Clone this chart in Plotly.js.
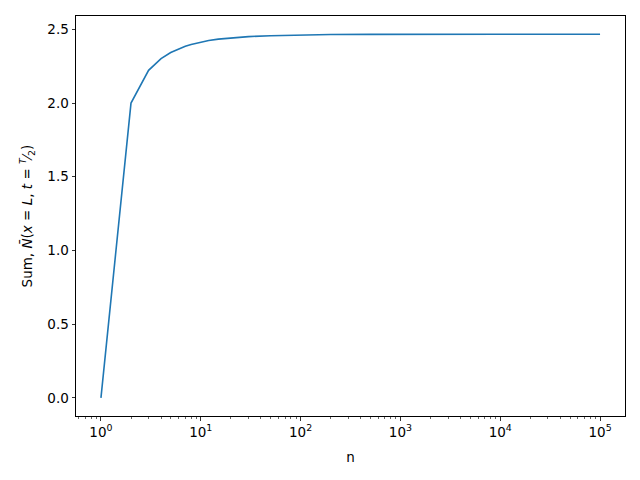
<!DOCTYPE html>
<html>
<head>
<meta charset="utf-8">
<script src="https://cdn.plot.ly/plotly-3.0.1.min.js"></script>
<style>body{margin:0;padding:0;background:#fff}#chart{width:640px;height:480px}</style>
</head>
<body>
<div id="chart"></div>
<script>
// Data
const nValues = [1, 2, 3, 4, 5, 6, 7, 8, 9, 10, 12, 15, 20, 30, 50, 100, 200, 500, 1000, 10000, 100000];
const sumValues = [0.000, 2.000, 2.222, 2.302, 2.343, 2.368, 2.385, 2.397, 2.406, 2.413, 2.424, 2.434, 2.443, 2.451, 2.457, 2.462, 2.465, 2.466, 2.467, 2.467, 2.467];
const xTickVals = [1, 10, 100, 1000, 10000, 100000];
const xTickText = ['10<sup>0</sup>', '10<sup>1</sup>', '10<sup>2</sup>', '10<sup>3</sup>', '10<sup>4</sup>', '10<sup>5</sup>'];
const yTickVals = [0, 0.5, 1.0, 1.5, 2.0, 2.5];
const yTickText = ['0.0', '0.5', '1.0', '1.5', '2.0', '2.5'];

// minor tick positions for the log axis (axis decoration)
const minorVals = [];
for (let e = -1; e <= 5; e++) {
  for (let m = 2; m <= 9; m++) minorVals.push(m * Math.pow(10, e));
}

const font = {family: 'DejaVu Sans, sans-serif', size: 13.5, color: '#000'};

Plotly.newPlot('chart', [{
  x: nValues,
  y: sumValues,
  type: 'scatter',
  mode: 'lines',
  line: {color: '#1f77b4', width: 1.6},
  hoverinfo: 'skip'
}], {
  width: 640, height: 480,
  margin: {l: 76, r: 15, t: 16, b: 64, pad: 0},
  paper_bgcolor: '#fff', plot_bgcolor: '#fff',
  showlegend: false,
  font: font,
  xaxis: {
    type: 'log',
    range: [-0.25, 5.25],
    tickvals: xTickVals, ticktext: xTickText,
    ticks: 'outside', ticklen: 3.5, tickwidth: 0.8, tickcolor: '#000',
    minor: {tickvals: minorVals, ticks: 'outside', ticklen: 2, tickwidth: 0.6, tickcolor: '#000', showgrid: false},
    showgrid: false, zeroline: false,
    showline: true, mirror: true, linecolor: '#000', linewidth: 1,
    tickfont: font,
    title: {text: 'n', font: font, standoff: 13}
  },
  yaxis: {
    range: [-0.1234, 2.5908],
    tickvals: yTickVals, ticktext: yTickText,
    ticks: 'outside', ticklen: 3.5, tickwidth: 0.8, tickcolor: '#000',
    showgrid: false, zeroline: false,
    showline: true, mirror: true, linecolor: '#000', linewidth: 1,
    tickfont: font,
    title: {text: 'Sum, <i>N̄</i>(<i>x</i> = <i>L</i>, <i>t</i> = <sup><i>T</i></sup>⁄<sub>2</sub>)', font: font, standoff: 11}
  }
}, {staticPlot: true});
</script>
</body>
</html>
